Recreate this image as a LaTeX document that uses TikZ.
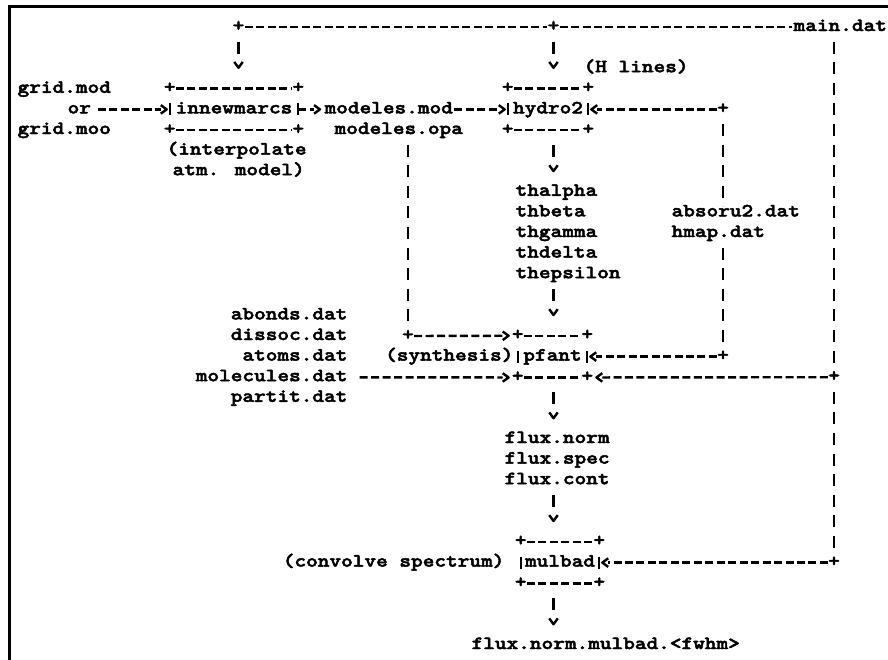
\documentclass[tikz,border=0pt]{standalone}
\usepackage{fontspec}
\usetikzlibrary{arrows.meta}
\newfontfamily\asciifont{lmmonolt10-bold.otf}[FakeStretch=1.19, FakeBold=2.5]

\pgfdeclarearrow{
  name = chev,
  setup code = {
    \pgfarrowssettipend{0pt}
    \pgfarrowssetlineend{-5.2pt}
    \pgfarrowssetbackend{-5.2pt}
    \pgfarrowshullpoint{0pt}{0pt}
    \pgfarrowsupperhullpoint{-5.2pt}{3.2pt}
  },
  drawing code = {
    \pgfsetdash{}{0pt}
    \pgfsetroundjoin
    \pgfpathmoveto{\pgfqpoint{-5.2pt}{3.2pt}}
    \pgfpathlineto{\pgfqpoint{-0.8pt}{0pt}}
    \pgfpathlineto{\pgfqpoint{-5.2pt}{-3.2pt}}
    \pgfusepathqstroke
  }
}

\begin{document}
\begin{tikzpicture}[x=0.75pt, y=-15.45pt, >=chev,
  txt/.style={font={\asciifont\fontsize{14pt}{15.45pt}\selectfont}, inner sep=0pt, inner xsep=1pt, text height=9pt, text depth=3pt},
  prog/.style={txt, inner xsep=0pt, minimum height=30.9pt},
  plus/.style={txt, inner sep=0pt, minimum size=8pt, text height=6pt, text depth=0pt},
  hline/.style={line width=1.8pt, dash pattern=on 6pt off 2.6pt},
  vline/.style={line width=1.8pt, dash pattern=on 9pt off 6.45pt, dash phase=9pt, shorten <=4.5pt, shorten >=4.5pt},
  vin/.style={vline, ->, shorten >=14.75pt},
  hin/.style={hline, ->, shorten >=1.5pt},
  bar/.style={line width=1.8pt}]
\useasboundingbox (0,-1.3107) rectangle (888,30.68);
\draw[line width=2pt] (9.5,30.8) -- (9.5,-0.995) -- (890,-0.995);

\node[plus] (jl) at (238.5,0) {+};
\node[plus] (jm) at (553.5,0) {+};
\node[txt, anchor=west] (main) at (792,0) {main.dat};
\node[txt, anchor=west] (hl) at (582,2) {(H lines)};

\node[txt, anchor=west] (gmod) at (16,3) {grid.mod};
\node[txt, anchor=west] (gor) at (66,4) {or};
\node[txt, anchor=west] (gmoo) at (16,5) {grid.moo};
\node[prog, minimum width=96pt] (inm) at (234,4) {innewmarcs};
\node[txt, anchor=west] (ip1) at (165,6) {(interpolate};
\node[txt, anchor=west] (ip2) at (171,7) {atm. model)};

\node[txt, anchor=west] (mmod) at (323,4) {modeles.mod};
\node[txt, anchor=west] (mopa) at (333,5) {modeles.opa};
\node[plus] (jopa) at (408,15) {+};

\node[prog, minimum width=60pt] (hyd) at (548,4) {hydro2};
\foreach \t [count=\i] in {thalpha,thbeta,thgamma,thdelta,thepsilon}
  \node[txt, anchor=west] (th\i) at (514,7+\i) {\t};

\node[plus] (jabs) at (723,4) {+};
\node[txt, anchor=west] (abs) at (670,9) {absoru2.dat};
\node[txt, anchor=west] (hmap) at (670,10) {hmap.dat};
\node[plus] (jabs2) at (723,16) {+};

\foreach \t [count=\i from 14] in {abonds.dat,dissoc.dat,atoms.dat,molecules.dat,partit.dat}
  \node[txt, anchor=east] (d\i) at (349,\i) {\t};

\node[prog, minimum width=51.75pt] (pft) at (552.5,16) {pfant};
\node[txt, anchor=east] (syn) at (515,16) {(synthesis)};

\foreach \t [count=\i from 20] in {flux.norm,flux.spec,flux.cont}
  \node[txt, anchor=west] (fl\i) at (503,\i) {\t};

\node[plus] (jmain2) at (834,17) {+};
\node[plus] (jmain3) at (834,26) {+};
\node[prog, minimum width=58.5pt] (mlb) at (560,26) {mulbad};
\node[txt, anchor=east] (conv) at (506,26) {(convolve spectrum)};
\node[txt, anchor=west] (out) at (470,30) {flux.norm.mulbad.<fwhm>};

\foreach \b in {inm,hyd,pft,mlb}{
  \node[plus] (\b-nw) at (\b.north west) {+};
  \node[plus] (\b-ne) at (\b.north east) {+};
  \node[plus] (\b-sw) at (\b.south west) {+};
  \node[plus] (\b-se) at (\b.south east) {+};
  \draw[hline] (\b-nw) -- (\b-ne);
  \draw[hline] (\b-sw) -- (\b-se);
  \draw[bar] ([yshift=4.5pt]\b.west) -- ([yshift=-4.5pt]\b.west);
  \draw[bar] ([yshift=4.5pt]\b.east) -- ([yshift=-4.5pt]\b.east);
}

\draw[hline] (jl) -- (jm);
\draw[hline] (jm) -- (main);
\draw[hin, shorten <=4pt] (gor) -- (inm);
\draw[hin] (inm) -- (mmod);
\draw[hin] (mmod) -- (hyd);
\draw[hin] (jabs) -- (hyd);
\draw[hin] (jopa) -- (pft-nw);
\draw[hin] (jabs2) -- (pft);
\draw[hin, shorten <=8pt] (d17) -- (pft-sw);
\draw[hin] (jmain2) -- (pft-se);
\draw[hin] (jmain3) -- (mlb);

\draw[vin] (jl.center) -- (jl |- inm.north);
\draw[vin] (jm.center) -- (jm |- hyd.north);
\draw[vin] (jm |- hyd.south) -- (jm |- th1.center);
\draw[vin] (jm |- th5.center) -- (jm |- pft.north);
\draw[vin] (jm |- pft.south) -- (jm |- fl20.center);
\draw[vin] (jm |- fl22.center) -- (jm |- mlb.north);
\draw[vin] (jm |- mlb.south) -- (jm |- out.center);
\draw[vline] (jopa |- mopa.center) -- (jopa.center);
\draw[vline] (jabs.center) -- (jabs |- abs.center);
\draw[vline] (jabs2 |- hmap.center) -- (jabs2.center);
\draw[vline] (jmain2 |- main.center) -- (jmain2.center);
\draw[vline] (jmain2.center) -- (jmain3.center);
\end{tikzpicture}
\end{document}
